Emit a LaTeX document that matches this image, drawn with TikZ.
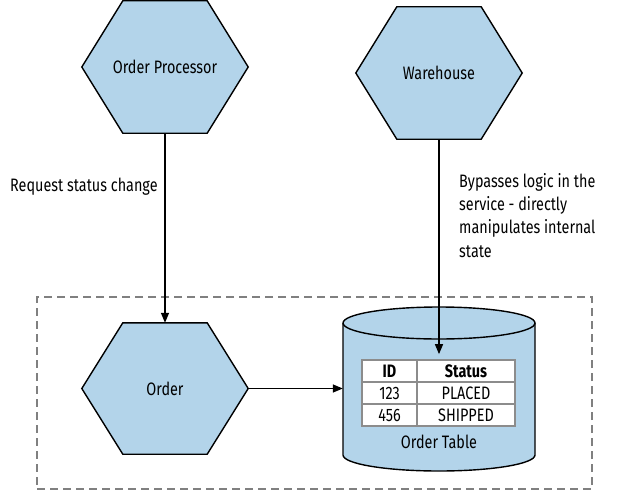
\documentclass[tikz,border=0pt]{standalone}
\usepackage{fontspec}
\setmainfont{Fira Sans}[FakeStretch=0.8]
\usetikzlibrary{arrows.meta,fit,calc,backgrounds}
\definecolor{hexblue}{RGB}{179,212,234}
\definecolor{boxgray}{RGB}{128,128,128}
\definecolor{cellgray}{RGB}{140,140,140}
\tikzset{
  txt/.style={font=\fontsize{18}{23.3}\selectfont},
  hexbox/.style={txt, minimum width=166pt, minimum height=132pt, inner sep=0pt},
  hexdraw/.style={fill=hexblue, draw=black, line width=1.4pt, line join=miter},
  arr/.style={line width=1.4pt, -{Triangle[length=10pt,width=8pt]}},
  cell/.style={txt, draw=cellgray, fill=white, line width=1.3pt, inner sep=0pt, minimum height=22pt},
  dashbox/.style={draw=boxgray, line width=1.4pt, dash pattern=on 8pt off 5pt, inner sep=0pt},
}
\newcommand\hexpath[1]{%
  ($(#1.north west)+(41,0)$) -- ($(#1.north east)+(-41,0)$) -- (#1.east) --
  ($(#1.south east)+(-41,0)$) -- ($(#1.south west)+(41,0)$) -- (#1.west) -- cycle}
\begin{document}
\begin{tikzpicture}[x=1pt,y=1pt]
\useasboundingbox (0,0) rectangle (617,-492);
% dashed service boundary
\node[dashbox, minimum width=555pt, minimum height=192pt] (boundary) at (314.5,-393) {};
% hexagon nodes
\node[hexbox] (op) at (165,-67) {Order Processor};
\node[hexbox] (wh) at (439,-73) {Warehouse};
\node[hexbox, minimum height=131pt] (order) at (165,-388.5) {Order};
\begin{scope}[on background layer]
  \draw[hexdraw] \hexpath{op};
  \draw[hexdraw] \hexpath{wh};
  \draw[hexdraw] \hexpath{order};
\end{scope}
% cylinder
\node[minimum width=192pt, minimum height=164pt, inner sep=0pt] (db) at (439,-389) {};
\fill[hexblue] (343,-323) -- (343,-455) arc[start angle=180,end angle=360,x radius=96pt,y radius=16pt] -- (535,-323) -- cycle;
\draw[line width=1.4pt] (343,-323) -- (343,-455) arc[start angle=180,end angle=360,x radius=96pt,y radius=16pt] -- (535,-323);
\draw[line width=1.4pt, fill=hexblue] (439,-323) ellipse[x radius=96pt, y radius=16pt];
% table
\node[cell, minimum width=55pt] (c11) at (389.5,-371) {\bfseries ID};
\node[cell, minimum width=98pt] (c12) at (466,-371) {\bfseries Status};
\node[cell, minimum width=55pt] (c21) at (389.5,-393) {123};
\node[cell, minimum width=98pt] (c22) at (466,-393) {PLACED};
\node[cell, minimum width=55pt] (c31) at (389.5,-415) {456};
\node[cell, minimum width=98pt] (c32) at (466,-415) {SHIPPED};
\node[fit=(c11)(c32), inner sep=0pt] (tbl) {};
\node[txt] (dblabel) at (439,-442) {Order Table};
% connectors
\draw[arr] (op.south) -- (order.north);
\draw[arr, shorten >=5pt] (wh.south) -- (wh.south |- tbl.north);
\draw[arr] (order.east) -- (order.east -| db.west);
% labels
\node[txt, anchor=west, inner sep=0pt] (lbl1) at (10,-187) {Request status change};
\node[txt, anchor=north west, align=left, inner sep=0pt] (lbl2) at (459,-173) {Bypasses logic in the\\service - directly\\manipulates internal\\state};
\end{tikzpicture}
\end{document}
